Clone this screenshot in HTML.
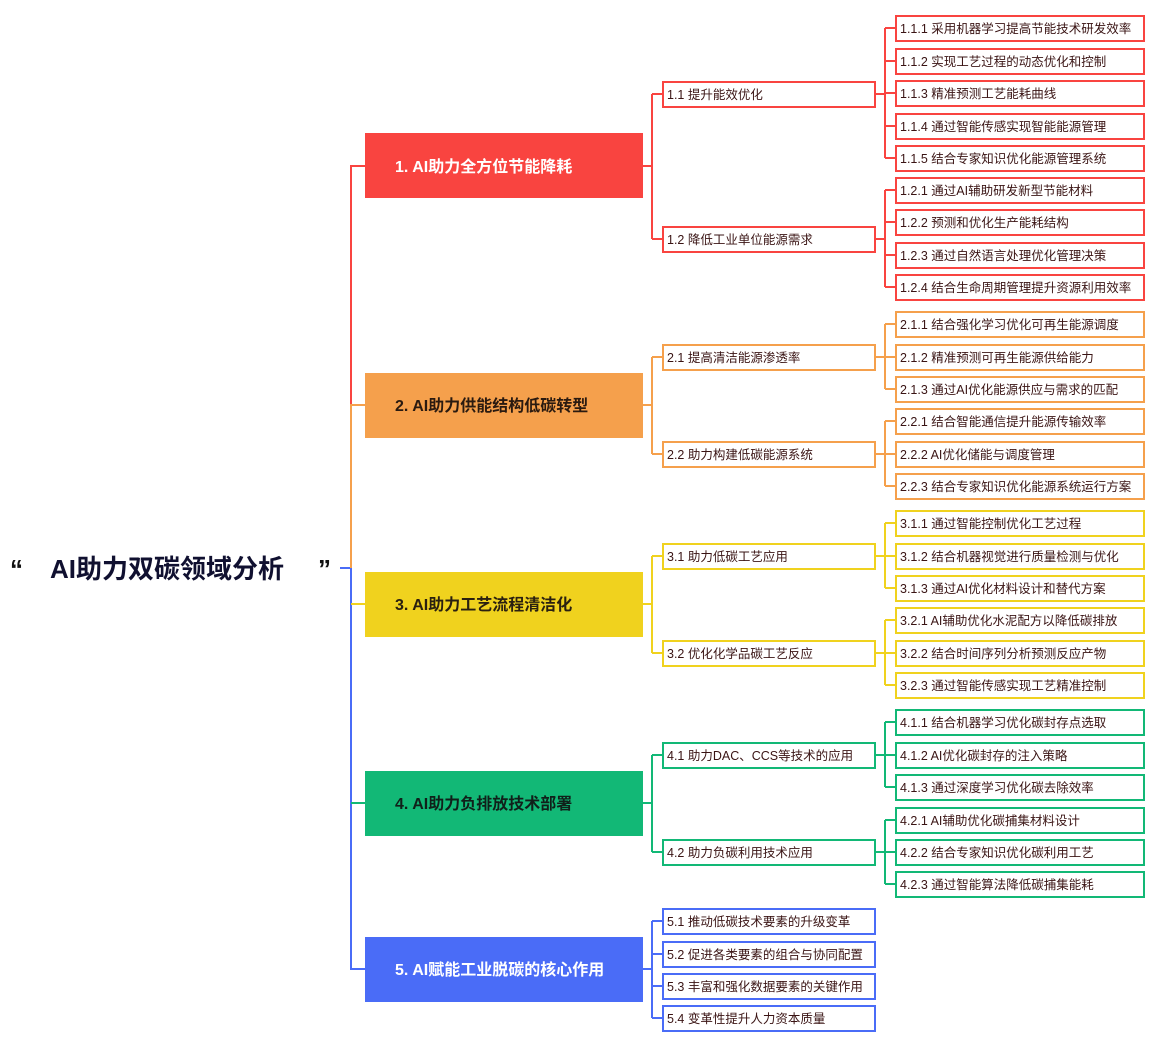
<!DOCTYPE html>
<html><head><meta charset="utf-8"><style>
body{margin:0;background:#fff}
text{font-family:"Liberation Sans","Noto Sans CJK SC",sans-serif}
.l{fill:none;stroke-width:2}
.b{fill:#fff;stroke-width:2}
.t{font-size:12.5px;fill:#3a1414}
.m{font-size:16px;font-weight:bold}
</style></head><body>
<svg width="1156" height="1048" xmlns="http://www.w3.org/2000/svg">
<text x="10" y="578" font-size="26" font-weight="bold" fill="#111">“</text>
<text x="50" y="578" font-size="26" font-weight="bold" fill="#101030">AI助力双碳领域分析</text>
<text x="318" y="578" font-size="26" font-weight="bold" fill="#111">”</text>
<path class="l" stroke="#4a6cf7" d="M340 568H351V969H365"/>
<path class="l" stroke="#f94440" d="M365 166H351V405"/>
<path class="l" stroke="#f5a04c" d="M365 405H351V568"/>
<path class="l" stroke="#f0d21e" d="M351 604H365"/>
<path class="l" stroke="#12b876" d="M351 803H365"/>

<!-- Group 1 -->
<g stroke="#f94440">
<rect x="365" y="133" width="278" height="65" fill="#f94440" stroke="none"/>
<path class="l" d="M643 166H652M652 94V239M652 94H662M652 239H662"/>
<rect class="b" x="663" y="82" width="212" height="25"/>
<rect class="b" x="663" y="227" width="212" height="25"/>
<path class="l" d="M875 94H885M885 28V158M885 28H895M885 61H895M885 93H895M885 126H895M885 158H895"/>
<path class="l" d="M875 239H885M885 190V287M885 190H895M885 222H895M885 255H895M885 287H895"/>
<rect class="b" x="896" y="16" width="248" height="25"/>
<rect class="b" x="896" y="49" width="248" height="25"/>
<rect class="b" x="896" y="81" width="248" height="25"/>
<rect class="b" x="896" y="114" width="248" height="25"/>
<rect class="b" x="896" y="146" width="248" height="25"/>
<rect class="b" x="896" y="178" width="248" height="25"/>
<rect class="b" x="896" y="210" width="248" height="25"/>
<rect class="b" x="896" y="243" width="248" height="25"/>
<rect class="b" x="896" y="275" width="248" height="25"/>
</g>
<text class="m" x="395" y="172" fill="#fff">1. AI助力全方位节能降耗</text>
<text class="t" x="667" y="99">1.1 提升能效优化</text>
<text class="t" x="667" y="244">1.2 降低工业单位能源需求</text>
<text class="t" x="900" y="33">1.1.1 采用机器学习提高节能技术研发效率</text>
<text class="t" x="900" y="66">1.1.2 实现工艺过程的动态优化和控制</text>
<text class="t" x="900" y="98">1.1.3 精准预测工艺能耗曲线</text>
<text class="t" x="900" y="131">1.1.4 通过智能传感实现智能能源管理</text>
<text class="t" x="900" y="163">1.1.5 结合专家知识优化能源管理系统</text>
<text class="t" x="900" y="195">1.2.1 通过AI辅助研发新型节能材料</text>
<text class="t" x="900" y="227">1.2.2 预测和优化生产能耗结构</text>
<text class="t" x="900" y="260">1.2.3 通过自然语言处理优化管理决策</text>
<text class="t" x="900" y="292">1.2.4 结合生命周期管理提升资源利用效率</text>

<!-- Group 2 -->
<g stroke="#f5a04c">
<rect x="365" y="373" width="278" height="65" fill="#f5a04c" stroke="none"/>
<path class="l" d="M643 405H652M652 357V454M652 357H662M652 454H662"/>
<rect class="b" x="663" y="345" width="212" height="25"/>
<rect class="b" x="663" y="442" width="212" height="25"/>
<path class="l" d="M875 357H885M885 324V389M885 324H895M885 357H895M885 389H895"/>
<path class="l" d="M875 454H885M885 421V486M885 421H895M885 454H895M885 486H895"/>
<rect class="b" x="896" y="312" width="248" height="25"/>
<rect class="b" x="896" y="345" width="248" height="25"/>
<rect class="b" x="896" y="377" width="248" height="25"/>
<rect class="b" x="896" y="409" width="248" height="25"/>
<rect class="b" x="896" y="442" width="248" height="25"/>
<rect class="b" x="896" y="474" width="248" height="25"/>
</g>
<text class="m" x="395" y="411" fill="#2a1a10">2. AI助力供能结构低碳转型</text>
<text class="t" x="667" y="362">2.1 提高清洁能源渗透率</text>
<text class="t" x="667" y="459">2.2 助力构建低碳能源系统</text>
<text class="t" x="900" y="329">2.1.1 结合强化学习优化可再生能源调度</text>
<text class="t" x="900" y="362">2.1.2 精准预测可再生能源供给能力</text>
<text class="t" x="900" y="394">2.1.3 通过AI优化能源供应与需求的匹配</text>
<text class="t" x="900" y="426">2.2.1 结合智能通信提升能源传输效率</text>
<text class="t" x="900" y="459">2.2.2 AI优化储能与调度管理</text>
<text class="t" x="900" y="491">2.2.3 结合专家知识优化能源系统运行方案</text>

<!-- Group 3 -->
<g stroke="#f0d21e">
<rect x="365" y="572" width="278" height="65" fill="#f0d21e" stroke="none"/>
<path class="l" d="M643 604H652M652 556V653M652 556H662M652 653H662"/>
<rect class="b" x="663" y="544" width="212" height="25"/>
<rect class="b" x="663" y="641" width="212" height="25"/>
<path class="l" d="M875 556H885M885 523V588M885 523H895M885 556H895M885 588H895"/>
<path class="l" d="M875 653H885M885 620V685M885 620H895M885 653H895M885 685H895"/>
<rect class="b" x="896" y="511" width="248" height="25"/>
<rect class="b" x="896" y="544" width="248" height="25"/>
<rect class="b" x="896" y="576" width="248" height="25"/>
<rect class="b" x="896" y="608" width="248" height="25"/>
<rect class="b" x="896" y="641" width="248" height="25"/>
<rect class="b" x="896" y="673" width="248" height="25"/>
</g>
<text class="m" x="395" y="610" fill="#2a2010">3. AI助力工艺流程清洁化</text>
<text class="t" x="667" y="561">3.1 助力低碳工艺应用</text>
<text class="t" x="667" y="658">3.2 优化化学品碳工艺反应</text>
<text class="t" x="900" y="528">3.1.1 通过智能控制优化工艺过程</text>
<text class="t" x="900" y="561">3.1.2 结合机器视觉进行质量检测与优化</text>
<text class="t" x="900" y="593">3.1.3 通过AI优化材料设计和替代方案</text>
<text class="t" x="900" y="625">3.2.1 AI辅助优化水泥配方以降低碳排放</text>
<text class="t" x="900" y="658">3.2.2 结合时间序列分析预测反应产物</text>
<text class="t" x="900" y="690">3.2.3 通过智能传感实现工艺精准控制</text>

<!-- Group 4 -->
<g stroke="#12b876">
<rect x="365" y="771" width="278" height="65" fill="#12b876" stroke="none"/>
<path class="l" d="M643 803H652M652 755V852M652 755H662M652 852H662"/>
<rect class="b" x="663" y="743" width="212" height="25"/>
<rect class="b" x="663" y="840" width="212" height="25"/>
<path class="l" d="M875 755H885M885 722V787M885 722H895M885 755H895M885 787H895"/>
<path class="l" d="M875 852H885M885 820V884M885 820H895M885 852H895M885 884H895"/>
<rect class="b" x="896" y="710" width="248" height="25"/>
<rect class="b" x="896" y="743" width="248" height="25"/>
<rect class="b" x="896" y="775" width="248" height="25"/>
<rect class="b" x="896" y="808" width="248" height="25"/>
<rect class="b" x="896" y="840" width="248" height="25"/>
<rect class="b" x="896" y="872" width="248" height="25"/>
</g>
<text class="m" x="395" y="809" fill="#10201a">4. AI助力负排放技术部署</text>
<text class="t" x="667" y="760">4.1 助力DAC、CCS等技术的应用</text>
<text class="t" x="667" y="857">4.2 助力负碳利用技术应用</text>
<text class="t" x="900" y="727">4.1.1 结合机器学习优化碳封存点选取</text>
<text class="t" x="900" y="760">4.1.2 AI优化碳封存的注入策略</text>
<text class="t" x="900" y="792">4.1.3 通过深度学习优化碳去除效率</text>
<text class="t" x="900" y="825">4.2.1 AI辅助优化碳捕集材料设计</text>
<text class="t" x="900" y="857">4.2.2 结合专家知识优化碳利用工艺</text>
<text class="t" x="900" y="889">4.2.3 通过智能算法降低碳捕集能耗</text>

<!-- Group 5 -->
<g stroke="#4a6cf7">
<rect x="365" y="937" width="278" height="65" fill="#4a6cf7" stroke="none"/>
<path class="l" d="M643 969H652M652 921V1018M652 921H662M652 954H662M652 986H662M652 1018H662"/>
<rect class="b" x="663" y="909" width="212" height="25"/>
<rect class="b" x="663" y="942" width="212" height="25"/>
<rect class="b" x="663" y="974" width="212" height="25"/>
<rect class="b" x="663" y="1006" width="212" height="25"/>
</g>
<text class="m" x="395" y="975" fill="#fff">5. AI赋能工业脱碳的核心作用</text>
<text class="t" x="667" y="926">5.1 推动低碳技术要素的升级变革</text>
<text class="t" x="667" y="959">5.2 促进各类要素的组合与协同配置</text>
<text class="t" x="667" y="991">5.3 丰富和强化数据要素的关键作用</text>
<text class="t" x="667" y="1023">5.4 变革性提升人力资本质量</text>
</svg>
</body></html>
